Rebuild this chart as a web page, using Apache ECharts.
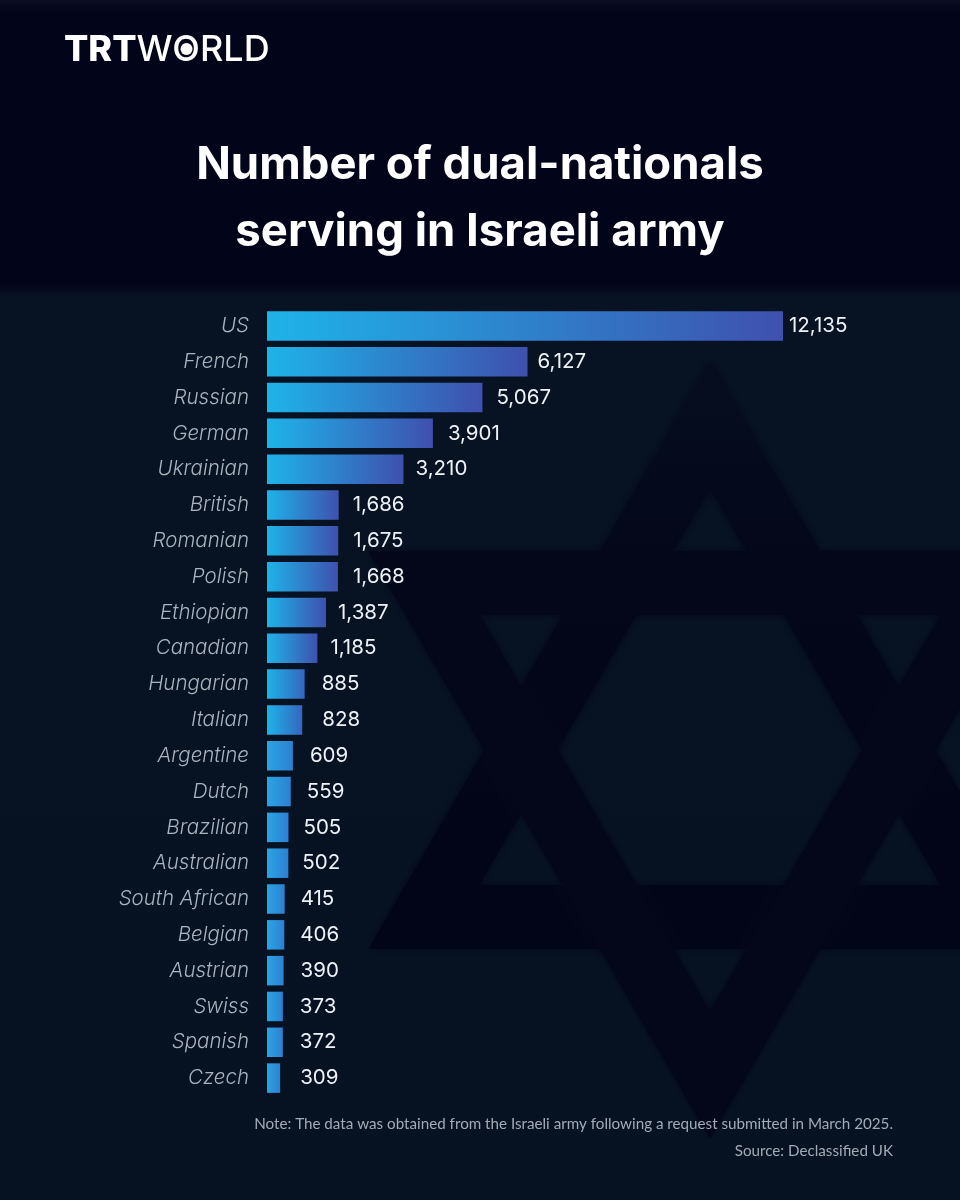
<!DOCTYPE html>
<html>
<head>
<meta charset="utf-8">
<style>
html,body{margin:0;padding:0;background:#061222;}
#chart{width:960px;height:1200px;}
</style>
<script src="https://cdn.jsdelivr.net/npm/echarts@6/dist/echarts.min.js"></script>
</head>
<body>
<div id="chart"></div>
<script>
var categories = ['US','French','Russian','German','Ukrainian','British','Romanian','Polish','Ethiopian','Canadian','Hungarian','Italian','Argentine','Dutch','Brazilian','Australian','South African','Belgian','Austrian','Swiss','Spanish','Czech'];
var values = [12135,6127,5067,3901,3210,1686,1675,1668,1387,1185,885,828,609,559,505,502,415,406,390,373,372,309];
// gap between bar end and its number, the reference does not keep it constant
var labelGaps = [6,10,14,15,12,14,15,15,12,13,17,20,17,16,15,14,16,16,17,17,17,20];

var titleText = 'Number of dual-nationals\nserving in Israeli army';
var noteText = 'Note: The data was obtained from the Israeli army following a request submitted in March 2025.';
var sourceText = 'Source: Declassified UK';

var font = 'Inter, "Noto Sans", sans-serif';
var myChart = echarts.init(document.getElementById('chart'));

//柱子渐变
function barColor(v){
    var left = v < 700 ? '#2aa4e4' : '#1eb3e9';
    var right = '#3f50ae';
    if(v < 700){
        right = '#2d80d2';
    }else if(v < 1000){
        right = '#3566bd';
    }
    return new echarts.graphic.LinearGradient(0,0,1,0,[
        {offset:0,color:left},
        {offset:1,color:right}
    ]);
}

//背景的星形,两个描边三角形
function starTriangle(points,gradient){
    return {
        type:'polygon',
        silent:true,
        z:0,
        shape:{points:points},
        style:{
            fill:'none',
            stroke:gradient,
            lineWidth:64,
            lineJoin:'miter',
            miterLimit:10,
            shadowBlur:10,
            shadowColor:'#030719'
        }
    };
}
var starUp = new echarts.graphic.LinearGradient(0,0,0,1,[
    {offset:0,color:'#050d1f'},
    {offset:0.3,color:'#030719'},
    {offset:1,color:'#020518'}
]);

var option = {
    animation:false,
    backgroundColor:new echarts.graphic.LinearGradient(0,0,0,1,[
        {offset:0,color:'#0a0e22'},
        {offset:0.012,color:'#02041a'},
        {offset:0.235,color:'#02041a'},
        {offset:0.248,color:'#071322'},
        {offset:1,color:'#061222'}
    ]),
    title:[
        {
            left:59,
            top:27,
            text:'{a|TRT}{b|WORLD}',
            textStyle:{
                rich:{
                    a:{fontFamily:font,fontSize:36,fontWeight:800,color:'#fff'},
                    b:{fontFamily:font,fontSize:36,fontWeight:500,color:'#fff'}
                }
            }
        },
        {
            left:475,
            top:127,
            text:titleText,
            textAlign:'center',
            textStyle:{
                fontFamily:font,
                fontSize:45.5,
                fontWeight:700,
                color:'#fff',
                lineHeight:67
            }
        },
        {
            right:62,
            top:1112,
            text:noteText,
            textStyle:{fontFamily:'Lato, sans-serif',fontSize:15.2,fontWeight:400,color:'#a3abb5'}
        },
        {
            right:62,
            top:1139,
            text:sourceText,
            textStyle:{fontFamily:'Lato, sans-serif',fontSize:15.2,fontWeight:400,color:'#a3abb5'}
        }
    ],
    grid:{left:267,top:308,width:516,height:788,containLabel:false},
    xAxis:{type:'value',min:0,max:12135,show:false},
    yAxis:{
        type:'category',
        inverse:true,
        data:categories,
        axisLine:{show:false},
        axisTick:{show:false},
        splitLine:{show:false},
        axisLabel:{
            margin:18,
            fontFamily:font,
            fontSize:20.5,
            fontStyle:'italic',
            fontWeight:300,
            color:'#aab3be'
        }
    },
    series:[{
        type:'bar',
        barWidth:29.5,
        z:2,
        data:values.map(function(v,i){
            return {
                value:v,
                itemStyle:{color:barColor(v)},
                label:{distance:labelGaps[i]}
            };
        }),
        label:{
            show:true,
            position:'right',
            fontFamily:font,
            fontSize:20.5,
            fontWeight:400,
            color:'#eef2f6',
            formatter:function(params){
                return params.value.toLocaleString('en-US');
            }
        }
    }],
    graphic:[
        starTriangle([[710,425],[996,917],[424,917]],starUp),
        starTriangle([[424,583],[996,583],[710,1075]],'#030719'),
        {type:'circle',silent:true,z:5,shape:{cx:186.5,cy:49,r:6},style:{fill:'#fff'}}
    ]
};

myChart.setOption(option);
</script>
</body>
</html>
